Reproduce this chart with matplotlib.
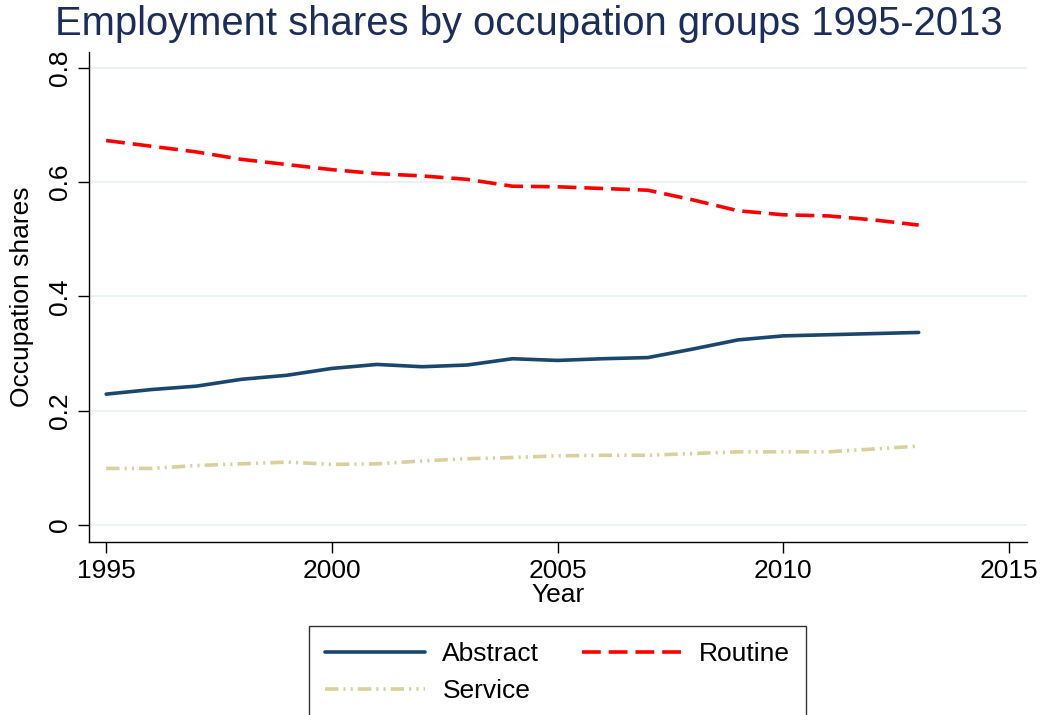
import matplotlib
matplotlib.use("Agg")
import matplotlib.pyplot as plt
import numpy as np

plt.rcParams["font.family"] = ["Liberation Sans", "DejaVu Sans"]

years = np.arange(1995, 2014)
abstract = [0.229, 0.237, 0.243, 0.255, 0.262, 0.274, 0.281, 0.277, 0.280, 0.291,
            0.288, 0.291, 0.293, 0.308, 0.324, 0.331, 0.333, 0.335, 0.337]
routine = [0.673, 0.663, 0.653, 0.640, 0.631, 0.622, 0.615, 0.611, 0.605, 0.593,
           0.592, 0.589, 0.586, 0.569, 0.550, 0.543, 0.541, 0.534, 0.525]
service = [0.099, 0.099, 0.104, 0.107, 0.110, 0.106, 0.107, 0.112, 0.116, 0.118,
           0.121, 0.122, 0.122, 0.125, 0.128, 0.128, 0.128, 0.133, 0.138]

xticks = [1995, 2000, 2005, 2010, 2015]
yticks = [0, 0.2, 0.4, 0.6, 0.8]
ylabels = ["0", "0.2", "0.4", "0.6", "0.8"]

fig = plt.figure(figsize=(10.51, 7.15), dpi=100)
ax = fig.add_axes([0.0847, 0.2420, 0.8925, 0.6853])

for y in yticks:
    ax.axhline(y, color="#eaf2f3", lw=1.5, zorder=0)

h1, = ax.plot(years, abstract, color="#1a476f", lw=2.6, label="Abstract", solid_capstyle="round")
h2, = ax.plot(years, routine, color="#ff0000", lw=2.6, ls=(0, (5.2, 2.2)), label="Routine")
h3, = ax.plot(years, service, color="#d9d09c", lw=2.6,
              ls=(0, (3.7, 1.4, 0.6, 1.4, 0.6, 1.4)), label="Service")

ax.set_xlim(1994.62, 2015.4)
ax.set_ylim(-0.0298, 0.828)
ax.set_xticks(xticks)
ax.set_yticks(yticks)
ax.set_yticklabels(ylabels, rotation=90, va="center")
ax.tick_params(axis="both", labelsize=19, length=8, width=1, color="black", direction="out", pad=4)
for s in ["top", "right"]:
    ax.spines[s].set_visible(False)
for s in ["left", "bottom"]:
    ax.spines[s].set_linewidth(1)

ax.set_xlabel("Year", fontsize=19, labelpad=0)
ax.set_ylabel("Occupation shares", fontsize=19, labelpad=10)

fig.text(0.503, 0.966, "Employment shares by occupation groups 1995-2013",
         ha="center", va="center", fontsize=28.8, color="#1c2d5a")

# column-major fill: col1 = Abstract, Service ; col2 = Routine
leg = fig.legend([h1, h3, h2], ["Abstract", "Service", "Routine"],
                 loc="upper center", bbox_to_anchor=(0.5305, 0.124), ncol=2,
                 fontsize=19, frameon=True, fancybox=False, edgecolor="black",
                 handlelength=3.8, handletextpad=0.65, columnspacing=1.6,
                 labelspacing=0.5, borderpad=0.6, borderaxespad=0)
leg.get_frame().set_linewidth(1)

fig.savefig("out.png", dpi=100)
